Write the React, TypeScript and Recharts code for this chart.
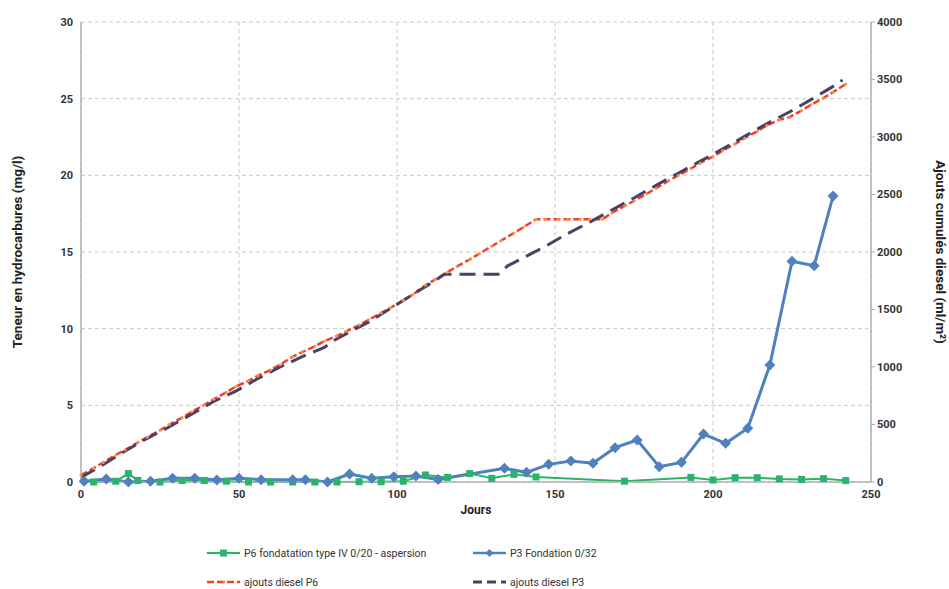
import React from 'react';
import { LineChart, Line, XAxis, YAxis, CartesianGrid } from 'recharts';

// P6 fondatation type IV 0/20 - aspersion (mg/l)
const p6Days = [4, 11, 15, 18, 25, 32, 39, 46, 53, 60, 67, 74, 81, 88, 95, 102, 109, 116, 123, 130, 137, 144, 172, 193, 200, 207, 214, 221, 228, 235, 242];
const p6Values = [0.0, 0.05, 0.55, 0.1, 0.0, 0.1, 0.1, 0.05, 0.0, 0.0, 0.0, 0.0, 0.0, 0.02, 0.02, 0.05, 0.46, 0.3, 0.55, 0.24, 0.5, 0.33, 0.05, 0.3, 0.13, 0.28, 0.28, 0.2, 0.17, 0.22, 0.09];

// P3 Fondation 0/32 (mg/l)
const p3Days = [1, 8, 15, 22, 29, 36, 43, 50, 57, 67, 71, 78, 85, 92, 99, 106, 113, 134, 141, 148, 155, 162, 169, 176, 183, 190, 197, 204, 211, 218, 225, 232, 238];
const p3Values = [0.05, 0.2, 0.0, 0.05, 0.24, 0.24, 0.13, 0.25, 0.15, 0.15, 0.15, 0.0, 0.52, 0.24, 0.35, 0.39, 0.17, 0.89, 0.63, 1.15, 1.37, 1.22, 2.24, 2.74, 1.0, 1.28, 3.13, 2.52, 3.5, 7.63, 14.4, 14.1, 18.65];

// ajouts diesel P6 (ml/m2, cumulative)
const dieselP6Days = [0, 4, 7, 11, 14, 18, 21, 25, 28, 32, 35, 39, 42, 46, 49, 53, 56, 60, 63, 67, 70, 74, 77, 81, 84, 88, 91, 95, 98, 102, 105, 109, 112, 116, 119, 123, 126, 130, 133, 137, 140, 144, 147, 151, 154, 158, 161, 165, 168, 172, 175, 179, 182, 186, 189, 193, 196, 200, 203, 207, 210, 214, 217, 221, 224, 228, 231, 235, 238, 242];
const dieselP6Values = [60, 120, 170, 235, 280, 345, 390, 450, 500, 560, 610, 670, 720, 780, 830, 880, 925, 975, 1020, 1090, 1130, 1180, 1225, 1270, 1310, 1365, 1410, 1470, 1515, 1580, 1630, 1710, 1760, 1825, 1875, 1935, 1985, 2050, 2100, 2165, 2215, 2285, 2285, 2285, 2285, 2285, 2285, 2285, 2340, 2400, 2445, 2505, 2555, 2620, 2665, 2725, 2775, 2830, 2880, 2940, 2990, 3050, 3100, 3150, 3170, 3230, 3280, 3340, 3390, 3460];

// ajouts diesel P3 (ml/m2, cumulative)
const dieselP3Days = [0, 7, 14, 21, 28, 35, 42, 49, 56, 63, 70, 77, 80, 84, 91, 98, 105, 112, 115, 132, 135, 140, 147, 154, 161, 168, 175, 182, 189, 196, 203, 210, 217, 224, 231, 238, 241];
const dieselP3Values = [40, 150, 270, 380, 480, 590, 700, 790, 900, 1000, 1090, 1170, 1230, 1290, 1390, 1510, 1630, 1750, 1806, 1806, 1880, 1950, 2050, 2160, 2260, 2365, 2470, 2580, 2685, 2790, 2895, 3005, 3115, 3215, 3325, 3440, 3496];

const xTicks = [0, 50, 100, 150, 200, 250];
const leftTicks = [0, 5, 10, 15, 20, 25, 30];
const rightTicks = [0, 500, 1000, 1500, 2000, 2500, 3000, 3500, 4000];

const GREEN = '#2bb36b';
const BLUE = '#4f81bd';
const RED = '#f0402a';
const ORANGE = '#f79646';
const PURPLE = '#4a4068';
const FONT = 'Roboto, "Open Sans", sans-serif';

const zip = (xs: number[], ys: number[]) => xs.map((x, i) => ({ day: x, v: ys[i] }));

const p6Data = zip(p6Days, p6Values);
const p3Data = zip(p3Days, p3Values);
const dieselP6Data = zip(dieselP6Days, dieselP6Values);
const dieselP3Data = zip(dieselP3Days, dieselP3Values);

function SquareDot(props: any) {
  const { cx, cy } = props;
  if (cx == null || cy == null) return null;
  return <rect x={cx - 3.5} y={cy - 3.5} width={7} height={7} fill={GREEN} />;
}

function DiamondDot(props: any) {
  const { cx, cy } = props;
  if (cx == null || cy == null) return null;
  return <path d={`M${cx},${cy - 5.5}L${cx + 5.5},${cy}L${cx},${cy + 5.5}L${cx - 5.5},${cy}Z`} fill={BLUE} />;
}

function LegendItem({ left, top, label, icon }: { left: number; top: number; label: string; icon: React.ReactNode }) {
  return (
    <div style={{ position: 'absolute', left, top, display: 'flex', alignItems: 'center', height: 14 }}>
      <svg width={36} height={14}>{icon}</svg>
      <span style={{ fontFamily: FONT, fontSize: 10.5, color: '#333', marginLeft: 1, whiteSpace: 'nowrap' }}>{label}</span>
    </div>
  );
}

export default function App() {
  const tick = { fill: '#333', fontSize: 11, fontWeight: 700, fontFamily: FONT };
  const titleStyle = { textAnchor: 'middle', fontFamily: FONT, fontSize: 13.5, fontWeight: 700, fill: '#222' };
  return (
    <div style={{ position: 'absolute', left: 0, top: 0, width: 949, height: 589, background: '#fff' }}>
      <LineChart
        width={949}
        height={589}
        margin={{ top: 22, right: 28, left: 31, bottom: 77 }}
      >
        <CartesianGrid stroke="#c8c8c8" strokeDasharray="4 3" horizontalValues={leftTicks} yAxisId="left" />
        <XAxis
          type="number"
          dataKey="day"
          domain={[0, 250]}
          ticks={xTicks}
          allowDuplicatedCategory={false}
          tick={tick}
          tickLine={false}
          axisLine={{ stroke: '#b0b0b0', strokeWidth: 1.5 }}
          height={30}
          label={{ value: 'Jours', position: 'insideBottom', offset: -2, style: { fontFamily: FONT, fontSize: 12, fontWeight: 700, fill: '#222' } }}
        />
        <YAxis
          yAxisId="left"
          domain={[0, 30]}
          ticks={leftTicks}
          tick={tick}
          tickLine={false}
          axisLine={{ stroke: '#b0b0b0', strokeWidth: 1.5 }}
          width={50}
          label={{ value: 'Teneur en hydrocarbures (mg/l)', angle: -90, position: 'insideLeft', offset: -14, style: titleStyle }}
        />
        <YAxis
          yAxisId="right"
          orientation="right"
          domain={[0, 4000]}
          ticks={rightTicks}
          tick={tick}
          tickLine={{ stroke: '#b0b0b0' }}
          tickSize={4}
          axisLine={{ stroke: '#b0b0b0', strokeWidth: 1.5 }}
          width={50}
          label={{ value: 'Ajouts cumulés diesel (ml/m²)', angle: 90, position: 'insideRight', offset: -20, style: titleStyle }}
        />
        <Line
          yAxisId="right"
          data={dieselP6Data}
          dataKey="v"
          type="linear"
          stroke={RED}
          strokeWidth={2.5}
          strokeDasharray="7 3"
          dot={{ r: 1.5, fill: ORANGE, stroke: 'none' }}
          isAnimationActive={false}
        />
        <Line
          yAxisId="right"
          data={dieselP3Data}
          dataKey="v"
          type="linear"
          stroke={PURPLE}
          strokeWidth={3}
          strokeDasharray="16 8"
          dot={false}
          isAnimationActive={false}
        />
        <Line
          yAxisId="left"
          data={p6Data}
          dataKey="v"
          type="linear"
          stroke={GREEN}
          strokeWidth={2}
          dot={<SquareDot />}
          isAnimationActive={false}
        />
        <Line
          yAxisId="left"
          data={p3Data}
          dataKey="v"
          type="linear"
          stroke={BLUE}
          strokeWidth={3}
          dot={<DiamondDot />}
          isAnimationActive={false}
        />
      </LineChart>
      <LegendItem left={207} top={546} label="P6 fondatation type IV 0/20 - aspersion"
        icon={<g><line x1={0} y1={7} x2={33} y2={7} stroke={GREEN} strokeWidth={2} /><rect x={13} y={3.5} width={7} height={7} fill={GREEN} /></g>} />
      <LegendItem left={473} top={546} label="P3 Fondation 0/32"
        icon={<g><line x1={0} y1={7} x2={33} y2={7} stroke={BLUE} strokeWidth={2.5} /><path d="M16.5,3L20.5,7L16.5,11L12.5,7Z" fill={BLUE} /></g>} />
      <LegendItem left={207} top={575} label="ajouts diesel P6"
        icon={<g><line x1={0} y1={7} x2={33} y2={7} stroke={RED} strokeWidth={2.5} strokeDasharray="7 3" /><circle cx={17} cy={7} r={1.5} fill={ORANGE} /></g>} />
      <LegendItem left={473} top={575} label="ajouts diesel P3"
        icon={<g><line x1={0} y1={7} x2={33} y2={7} stroke={PURPLE} strokeWidth={3} strokeDasharray="9 5" /></g>} />
    </div>
  );
}
